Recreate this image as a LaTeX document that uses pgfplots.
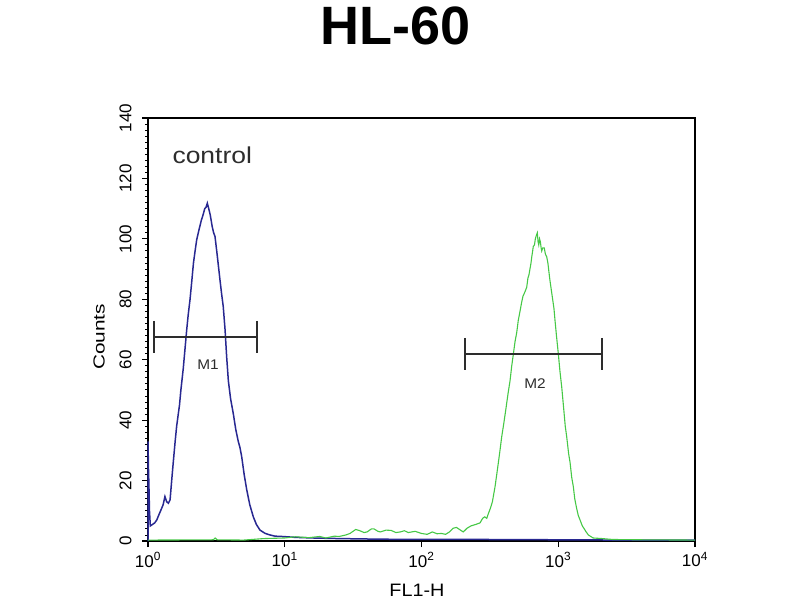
\documentclass[border=0pt]{standalone}
\usepackage{pgfplots}
\pgfplotsset{compat=1.18}
\usepackage{graphicx}
\usepackage{fontspec}
\setmainfont{Liberation Sans}
\definecolor{ctrlblue}{RGB}{40,40,145}
\definecolor{fitcgreen}{RGB}{70,200,70}
\definecolor{mgray}{RGB}{45,45,45}

\begin{document}
\begin{tikzpicture}[x=1pt,y=1pt]
\useasboundingbox (0,0) rectangle (800,600);
\node[font=\bfseries\fontsize{54}{54}\selectfont] at (396,574) {HL-60};
\begin{axis}[
  at={(148pt,59pt)}, anchor=south west,
  scale only axis, width=547pt, height=423pt,
  xmode=log, log basis x=10,
  xmin=1, xmax=10000, ymin=0, ymax=140,
  xtick={1,10,100,1000,10000},
  xticklabels={10\textsuperscript{0},10\textsuperscript{1},10\textsuperscript{2},10\textsuperscript{3},10\textsuperscript{4}},
  ytick={0,20,...,140},
  minor y tick num=9,
  tick align=outside, tick pos=left,
  major tick length=6pt, minor tick length=3pt,
  every tick/.style={black,line width=1.2pt},
  minor tick style={line width=0.9pt},
  axis line style={line width=1.3pt},
  tick label style={font=\fontsize{17}{17}\selectfont},
  /pgf/number format/assume math mode=true,
  yticklabel style={rotate=90, anchor=south},
  yticklabel shift=7pt,
  xticklabel shift=2pt,
  clip=false,
]
\addplot[ctrlblue, line width=1.5pt] coordinates {
(1.000,0)(1.000,33)(1.008,24)(1.015,19)(1.025,10)(1.04,5)(1.08,5.5)(1.12,6)(1.16,7)(1.21,9)(1.25,10.5)(1.29,12)(1.33,14.7)(1.37,13)(1.41,12.5)(1.45,13.6)(1.49,20)(1.53,26)(1.58,33)(1.62,38)(1.665,42)(1.70,45)(1.74,50)(1.78,54)(1.81,57)(1.86,63)(1.92,70)(1.97,75)(2.03,80)(2.09,86)(2.15,92)(2.21,96)(2.27,99.7)(2.36,103)(2.45,106)(2.53,108)(2.60,110)(2.66,110.5)(2.715,111.8)(2.78,110)(2.85,108)(2.95,104)(3.02,102)(3.09,100.8)(3.20,95)(3.36,86.4)(3.45,82)(3.55,77.6)(3.66,70)(3.76,61)(3.87,53)(4.02,47)(4.21,42)(4.38,37)(4.57,33)(4.70,31)(4.84,28)(5.05,22)(5.27,17)(5.55,12)(5.89,8)(6.2,5.5)(6.59,3.6)(7.2,2.5)(7.80,2)(8.5,1.6)(9.5,1.5)(12,1.2)(16,1)(25,0.8)(50,0.6)(100,0.5)(300,0.5)(1000,0.4)(3000,0.3)(10000,0.3)
};
\addplot[fitcgreen, line width=1.1pt] coordinates {
(1,0.3)(3,0.4)(3.1,1)(3.2,0.4)(5,0.3)(7,0.8)(10,1)(12,1.4)(15,1.1)(18,1.5)(20,1)(23,1.6)(25,1.5)(28,2)(30,2.5)(33,3.8)(35,3.5)(38,2.8)(40,3)(43,4)(45,4)(48,3.2)(50,3)(55,3.6)(60,3.5)(65,2.8)(70,3)(75,3.4)(80,2.8)(90,3.2)(100,2.5)(110,2.2)(120,3)(130,2.4)(140,2.5)(150,2.2)(160,3)(170,4.2)(180,4.5)(190,3.8)(202,3)(215,4.2)(230,5)(250,5.5)(268,6)(280,7.5)(290,8)(300,7.5)(308,9)(320,11)(330,13)(345,18)(355,22)(365,26)(375,30)(386,34.5)(400,39)(415,44)(430,49)(444,53)(457,58)(470,62)(483,66)(497,69)(510,73)(520,75)(530,77)(540,79)(552,81)(565,82)(577,83)(588,84)(600,87)(610,88)(621,90)(632,92)(640,94)(650,96)(657,97.5)(670,98)(680,100)(690,101)(703,102)(712,99)(720,98)(730,100)(740,99)(750,97)(757,96)(770,97)(790,97)(805,95)(824,94)(840,92)(850,90)(860,88)(871,86)(890,83)(910,80)(930,77)(947,73)(970,68)(1001,62)(1030,56)(1060,51)(1100,43)(1125,38)(1153,34.5)(1190,29)(1220,26)(1255,21)(1289,18)(1320,14)(1360,11)(1400,8.5)(1442,7)(1500,5)(1550,4)(1600,3)(1660,2)(1800,1)(2100,0.8)(2500,0.5)(4000,0.4)(10000,0.3)
};
% M1 and M2 gates
\addplot[mgray, line width=1.8pt, mark=|, mark size=16pt, mark options={line width=1.8pt}] coordinates {(1.106,67.6)(6.30,67.6)};
\addplot[mgray, line width=1.8pt, mark=|, mark size=16pt, mark options={line width=1.8pt}] coordinates {(208,61.9)(2080,61.9)};
\node[text=mgray, font=\fontsize{14}{14}\selectfont] at (axis cs:2.75,58.3) {\scalebox{1.1}[1]{M1}};
\node[text=mgray, font=\fontsize{14}{14}\selectfont] at (axis cs:676,52.2) {\scalebox{1.1}[1]{M2}};
\node[text=mgray, font=\fontsize{23}{23}\selectfont] at (axis cs:2.95,127.8) {\scalebox{1.15}[1]{control}};
\end{axis}
\node[font=\fontsize{18}{18}\selectfont] at (417,10) {\scalebox{1.1}[1]{FL1-H}};
\node[rotate=90, font=\fontsize{16}{16}\selectfont] at (99,263) {\scalebox{1.3}[1]{Counts}};
\end{tikzpicture}
\end{document}
